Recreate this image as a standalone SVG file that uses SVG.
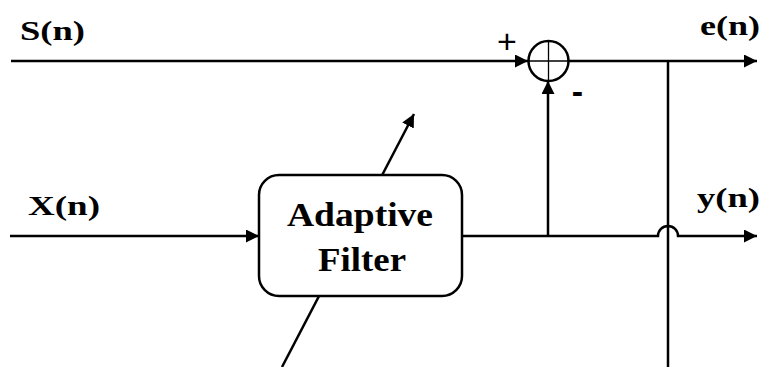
<svg xmlns="http://www.w3.org/2000/svg" width="763" height="367" viewBox="0 0 763 367">
<defs>
<marker id="arr" viewBox="0 0 10 10" refX="10" refY="5" markerWidth="13" markerHeight="13" markerUnits="userSpaceOnUse" orient="auto">
<path d="M0,0 L10,5 L0,10 Z" fill="#000"/>
</marker>
</defs>
<style>
.ln{stroke:#000;stroke-width:2.5;fill:none}
.lbl{font-family:"Liberation Serif","Times New Roman",serif;font-weight:bold;font-size:28px;fill:#000}
.big{font-size:33px}
.box{stroke:#000;stroke-width:2.5;fill:#fff}
</style>
<rect width="763" height="367" fill="#fff"/>
<g id="connectors">
<line class="ln" x1="11" y1="61" x2="528" y2="61" marker-end="url(#arr)"/>
<line class="ln" x1="569" y1="61" x2="757" y2="61" marker-end="url(#arr)"/>
<line class="ln" x1="10" y1="236" x2="259" y2="236" marker-end="url(#arr)"/>
<path class="ln" d="M462,236 H658 A10,10 0 0 1 678,236 H757" marker-end="url(#arr)"/>
<line class="ln" x1="548" y1="236" x2="548" y2="81" marker-end="url(#arr)"/>
<line class="ln" x1="668" y1="61" x2="668" y2="367"/>
<line class="ln" x1="282" y1="367" x2="414" y2="114" marker-end="url(#arr)"/>
</g>
<g id="filter">
<rect class="box" x="259" y="175" width="203" height="121" rx="20" ry="20"/>
<text class="lbl big" x="287" y="226" textLength="146" lengthAdjust="spacingAndGlyphs">Adaptive</text>
<text class="lbl big" x="318" y="271" textLength="88" lengthAdjust="spacingAndGlyphs">Filter</text>
</g>
<g id="sum">
<circle cx="548.5" cy="61" r="20" fill="#fff" stroke="#000" stroke-width="2.5"/>
<line x1="528.5" y1="61" x2="568.5" y2="61" stroke="#000" stroke-width="1.3"/>
<line x1="548.5" y1="41" x2="548.5" y2="81" stroke="#000" stroke-width="1.3"/>
<text x="507" y="52.5" font-family="Liberation Sans, Arial, sans-serif" font-size="34" text-anchor="middle">+</text>
<text x="577.5" y="103" font-family="Liberation Sans, Arial, sans-serif" font-weight="bold" font-size="34" text-anchor="middle">-</text>
</g>
<g id="labels">
<text class="lbl" x="20" y="40" textLength="65" lengthAdjust="spacingAndGlyphs">S(n)</text>
<text class="lbl" x="28" y="215" textLength="72" lengthAdjust="spacingAndGlyphs">X(n)</text>
<text class="lbl" x="700" y="35" textLength="60" lengthAdjust="spacingAndGlyphs">e(n)</text>
<text class="lbl" x="697" y="207" textLength="63" lengthAdjust="spacingAndGlyphs">y(n)</text>
</g>
</svg>
